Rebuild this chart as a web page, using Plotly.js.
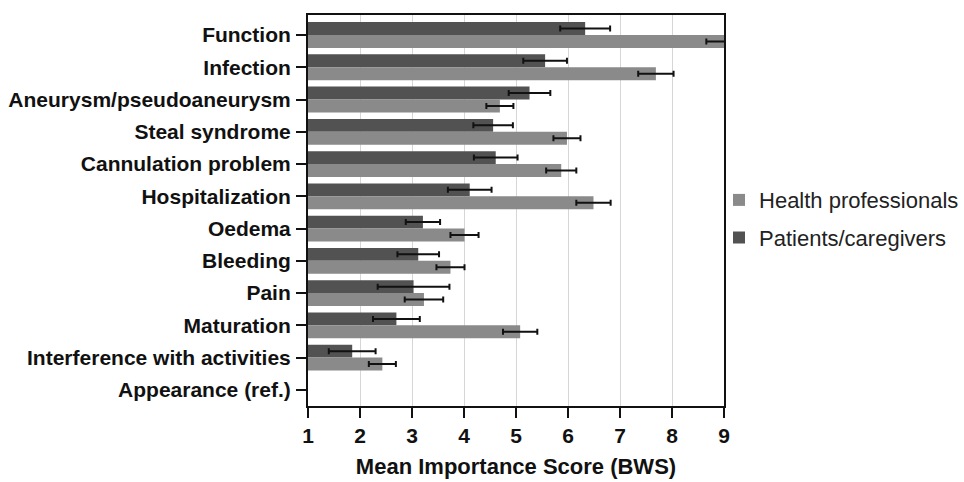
<!DOCTYPE html>
<html>
<head>
<meta charset="utf-8">
<script src="https://cdn.plot.ly/plotly-3.0.1.min.js"></script>
<style>html,body{margin:0;padding:0;background:#fff;}#chart{width:964px;height:482px;}</style>
</head>
<body>
<div id="chart"></div>
<script>
const categories = ["Function","Infection","Aneurysm/pseudoaneurysm","Steal syndrome","Cannulation problem","Hospitalization","Oedema","Bleeding","Pain","Maturation","Interference with activities","Appearance (ref.)"];
const patientsMean = [6.33,5.56,5.26,4.56,4.61,4.11,3.21,3.12,3.03,2.70,1.85,1.0];
const patientsErr  = [0.48,0.42,0.40,0.38,0.42,0.42,0.33,0.40,0.69,0.45,0.45,0];
const healthMean   = [9.0,7.69,4.69,5.98,5.87,6.49,4.01,3.74,3.23,5.08,2.43,1.0];
const healthErr    = [0.34,0.34,0.26,0.26,0.29,0.33,0.27,0.27,0.37,0.33,0.26,0];
const xTicks = [1,2,3,4,5,6,7,8,9];

const base = 1;
// the reference category (value = base) has zero length: no bar or error drawn
const len = (arr) => arr.map(v => v > base ? v - base : null);
const err = (arr, means) => arr.map((e, i) => means[i] > base ? e : null);
const errStyle = (arr) => ({type:'data', array: arr, visible:true, color:'#111', thickness:2, width:3});

const traces = [
  {type:'bar', orientation:'h', name:'Patients/caregivers', y:categories,
   x:len(patientsMean), base:base, marker:{color:'#525252', line:{width:0}},
   error_x:errStyle(err(patientsErr, patientsMean)), legendgroup:'p', legendrank:2},
  {type:'bar', orientation:'h', name:'Health professionals', y:categories,
   x:len(healthMean), base:base, marker:{color:'#8a8a8a', line:{width:0}},
   error_x:errStyle(err(healthErr, healthMean)), legendgroup:'h', legendrank:1}
];

const layout = {
  width:964, height:482,
  margin:{l:308, r:240, t:15, b:76, autoexpand:false},
  paper_bgcolor:'#fff', plot_bgcolor:'#fff',
  barmode:'group', bargap:0.2, bargroupgap:0,
  font:{family:'Liberation Sans, Arial, sans-serif', color:'#111'},
  xaxis:{range:[1,9], tickvals:xTicks, ticktext:xTicks.map(String),
    showgrid:true, gridcolor:'#d6d6d6', gridwidth:1,
    showline:true, linecolor:'#111', linewidth:2, mirror:true,
    ticks:'outside', ticklen:10, tickwidth:2, tickcolor:'#111',
    tickfont:{size:21, family:'Liberation Sans, Arial, sans-serif', weight:'bold'},
    title:{text:'<b>Mean Importance Score (BWS)</b>', font:{size:22}, standoff:12},
    zeroline:false, fixedrange:true, automargin:false},
  yaxis:{type:'category', categoryorder:'array', categoryarray:categories,
    range:[11.5,-0.62], showgrid:false,
    showline:true, linecolor:'#111', linewidth:2, mirror:true,
    ticks:'outside', ticklen:10, tickwidth:2, tickcolor:'#111',
    tickfont:{size:21, family:'Liberation Sans, Arial, sans-serif', weight:'bold'},
    ticklabelstandoff:1, fixedrange:true, automargin:false},
  showlegend:true,
  legend:{x:0.988, xanchor:'left', y:0.478, yanchor:'middle',
    font:{size:22, color:'#222'}, traceorder:'grouped', tracegroupgap:6,
    bgcolor:'rgba(0,0,0,0)'}
};

Plotly.newPlot('chart', traces, layout, {displayModeBar:false, staticPlot:true});
</script>
</body>
</html>
